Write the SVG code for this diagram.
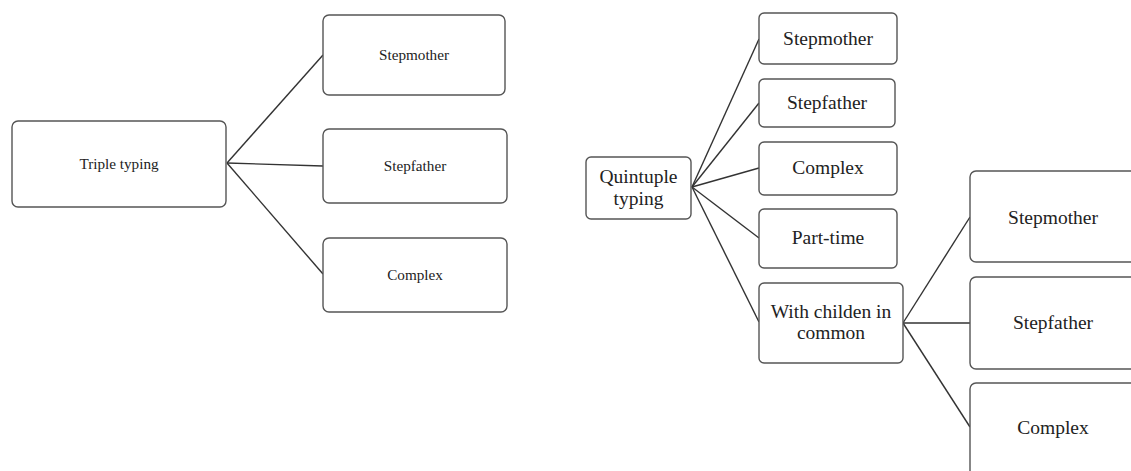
<svg xmlns="http://www.w3.org/2000/svg" width="1131" height="471" viewBox="0 0 1131 471">
<style>
.box{fill:#fff;stroke:#555;stroke-width:1.4}
.ln{stroke:#333;stroke-width:1.4;fill:none}
.s{font-family:"Liberation Serif","Times New Roman",serif;font-size:15.2px;fill:#222;text-anchor:middle}
.b{font-family:"Liberation Serif","Times New Roman",serif;font-size:19.5px;fill:#222;text-anchor:middle}
</style>
<rect width="1131" height="471" fill="#fff"/>
<g id="connectors">
<line class="ln" x1="227" y1="163" x2="323" y2="55"/>
<line class="ln" x1="227" y1="163" x2="323" y2="166"/>
<line class="ln" x1="227" y1="163" x2="323" y2="274"/>
<line class="ln" x1="692" y1="187" x2="759" y2="39"/>
<line class="ln" x1="692" y1="187" x2="759" y2="103"/>
<line class="ln" x1="692" y1="187" x2="759" y2="168"/>
<line class="ln" x1="692" y1="187" x2="759" y2="238"/>
<line class="ln" x1="692" y1="187" x2="759" y2="322"/>
<line class="ln" x1="903" y1="323" x2="970" y2="217"/>
<line class="ln" x1="903" y1="323" x2="970" y2="323"/>
<line class="ln" x1="903" y1="323" x2="970" y2="427"/>
</g>
<g id="triple"><rect class="box" x="12" y="121" width="214" height="86" rx="6"/><text class="s" x="119" y="169">Triple typing</text></g>
<g id="t-stepmother"><rect class="box" x="323" y="15" width="182" height="80" rx="6"/><text class="s" x="414" y="60">Stepmother</text></g>
<g id="t-stepfather"><rect class="box" x="323" y="129" width="184" height="74" rx="6"/><text class="s" x="415" y="171">Stepfather</text></g>
<g id="t-complex"><rect class="box" x="323" y="238" width="184" height="74" rx="6"/><text class="s" x="415" y="280">Complex</text></g>
<g id="quintuple"><rect class="box" x="586" y="157" width="105" height="62" rx="5"/><text class="b" x="638.5" y="183">Quintuple</text><text class="b" x="638.5" y="205">typing</text></g>
<g id="q-stepmother"><rect class="box" x="759" y="13" width="138" height="51" rx="5"/><text class="b" x="828" y="45">Stepmother</text></g>
<g id="q-stepfather"><rect class="box" x="759" y="79" width="136" height="48" rx="5"/><text class="b" x="827" y="109">Stepfather</text></g>
<g id="q-complex"><rect class="box" x="759" y="142" width="138" height="53" rx="5"/><text class="b" x="828" y="174">Complex</text></g>
<g id="q-parttime"><rect class="box" x="759" y="209" width="138" height="59" rx="5"/><text class="b" x="828" y="244">Part-time</text></g>
<g id="q-children"><rect class="box" x="759" y="283" width="144" height="80" rx="5"/><text class="b" x="831" y="318">With childen in</text><text class="b" x="831" y="339">common</text></g>
<g id="c-stepmother"><rect class="box" x="970" y="171" width="175" height="91" rx="6"/><text class="b" x="1053" y="224">Stepmother</text></g>
<g id="c-stepfather"><rect class="box" x="970" y="277" width="175" height="92" rx="6"/><text class="b" x="1053" y="329">Stepfather</text></g>
<g id="c-complex"><rect class="box" x="970" y="383" width="175" height="100" rx="6"/><text class="b" x="1053" y="434">Complex</text></g>
</svg>
